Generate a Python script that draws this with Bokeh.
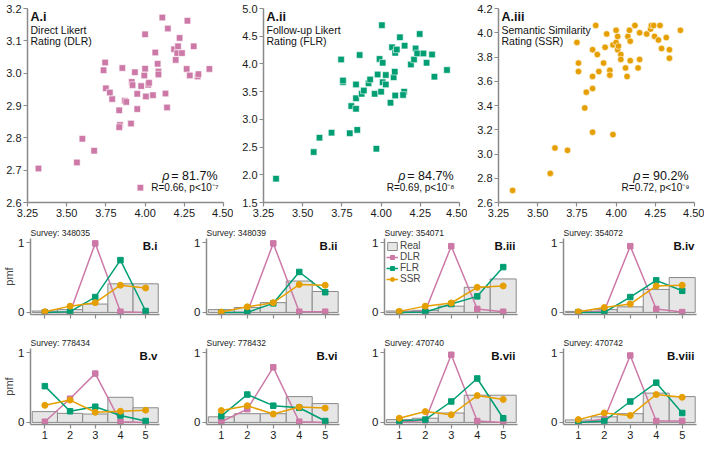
from bokeh.plotting import figure
from bokeh.layouts import row, column
from bokeh.models import Range1d, FixedTicker, NumeralTickFormatter, Label, Legend, LegendItem, AllLabels
from bokeh.embed import file_html
from bokeh.resources import INLINE

FONT = "Liberation Sans"
PINK, GREEN, ORANGE = "#CC79A7", "#009E73", "#E69F00"
AXIS_GRAY = "#8a8a8a"
BAR_FILL, BAR_LINE = "#e6e6e6", "#8a8a8a"

# ---------------- Panel A data (real mean vs synthetic mean) ----------------
dlr_real = [3.32, 3.565, 3.60, 3.675, 3.735, 3.745, 3.75, 3.79, 3.775, 3.835, 3.84, 3.835,
            3.855, 3.87, 3.88, 3.91, 3.915, 3.92, 3.935, 3.95, 3.95, 3.975, 4.0, 3.995,
            4.0, 4.005, 4.02, 4.025, 3.97, 4.05, 4.065, 4.08, 4.085, 4.085, 4.11, 4.13,
            4.14, 4.145, 4.185, 4.195, 4.21, 4.22, 4.205, 4.235, 4.265, 4.27, 4.285, 4.31,
            4.335, 4.34, 4.41]
dlr_mean = [2.705, 2.724, 2.797, 2.760, 3.009, 3.033, 2.953, 2.920, 2.940, 2.885, 2.840, 2.833,
            3.016, 2.915, 2.911, 2.844, 2.973, 2.963, 3.003, 2.936, 2.889, 2.960, 3.120, 2.993,
            3.014, 2.928, 2.964, 2.970, 2.646, 2.932, 3.064, 3.029, 3.005, 2.996, 3.172, 2.937,
            2.894, 3.138, 3.074, 3.041, 3.083, 3.109, 3.062, 3.062, 3.013, 3.162, 2.993, 3.083,
            2.990, 2.997, 3.013]

flr_real = [3.33, 3.57, 3.607, 3.684, 3.745, 3.757, 3.757, 3.81, 3.80, 3.84, 3.84, 3.848,
            3.84, 3.863, 3.876, 3.89, 3.92, 3.93, 3.959, 3.97, 3.978, 3.99, 4.005, 4.01,
            4.0, 4.01, 4.03, 4.03, 4.06, 4.07, 4.08, 4.087, 4.09, 4.09, 4.10, 4.12,
            4.147, 4.15, 4.14, 4.19, 4.21, 4.22, 4.23, 4.246, 4.27, 4.29, 4.325, 4.34, 4.42]
flr_mean = [1.93, 2.41, 2.67, 2.76, 4.08, 3.67, 3.70, 3.24, 2.75, 3.63, 3.19, 2.81,
            3.38, 4.16, 3.46, 3.52, 3.65, 3.72, 3.46, 2.47, 3.81, 4.09, 4.70, 4.02,
            3.50, 3.67, 3.80, 3.63, 3.30, 4.30, 3.76, 3.86, 4.20, 3.43, 4.26, 4.48,
            3.50, 4.33, 3.44, 3.99, 4.08, 4.28, 4.19, 4.54, 4.19, 4.02, 4.17, 3.77, 3.89]

ssr_real = [3.34, 3.58, 3.61, 3.69, 3.75, 3.76, 3.76, 3.80, 3.81, 3.85, 3.85, 3.85,
            3.85, 3.87, 3.88, 3.89, 3.92, 3.93, 3.94, 3.96, 3.96, 3.98, 3.98, 4.0,
            4.0, 4.01, 4.01, 4.015, 4.03, 4.03, 4.06, 4.07, 4.075, 4.085, 4.09, 4.09,
            4.12, 4.14, 4.15, 4.15, 4.195, 4.22, 4.225, 4.24, 4.245, 4.27, 4.28, 4.29,
            4.32, 4.34, 4.34, 4.41]
ssr_mean = [2.70, 2.84, 3.05, 3.03, 3.92, 3.68, 3.75, 3.38, 3.51, 3.86, 3.64, 3.54,
            3.18, 4.06, 3.82, 3.68, 3.75, 3.88, 3.99, 3.69, 3.65, 3.16, 3.90, 3.92,
            4.02, 3.86, 3.97, 3.89, 3.82, 3.78, 3.71, 3.64, 3.97, 4.02, 3.77, 3.93,
            4.06, 3.71, 3.78, 4.00, 3.99, 4.03, 4.06, 4.06, 3.97, 3.94, 4.06, 3.87,
            3.96, 3.86, 3.79, 4.02]

x_ticks_a = [3.25, 3.50, 3.75, 4.00, 4.25, 4.50]
y_ticks_dlr = [2.6, 2.7, 2.8, 2.9, 3.0, 3.1, 3.2]
y_ticks_flr = [1.5, 2.0, 2.5, 3.0, 3.5, 4.0, 4.5, 5.0]
y_ticks_ssr = [2.6, 2.8, 3.0, 3.2, 3.4, 3.6, 3.8, 4.0, 4.2]

# ---------------- Panel B data (pmf over Likert 1..5) ----------------
likert = [1, 2, 3, 4, 5]
pmf_ticks = [0, 1]
surveys = ["348035", "348039", "354071", "354072", "778434", "778432", "470740", "470742"]
tags = ["B.i", "B.ii", "B.iii", "B.iv", "B.v", "B.vi", "B.vii", "B.viii"]
real_pmf = [
    [0.02, 0.04, 0.12, 0.41, 0.41],
    [0.04, 0.07, 0.14, 0.45, 0.30],
    [0.02, 0.03, 0.09, 0.36, 0.48],
    [0.015, 0.04, 0.08, 0.33, 0.50],
    [0.155, 0.13, 0.12, 0.36, 0.21],
    [0.08, 0.125, 0.125, 0.37, 0.27],
    [0.04, 0.06, 0.135, 0.39, 0.39],
    [0.035, 0.08, 0.125, 0.42, 0.37],
]
dlr_pmf = [
    [0.0, 0.0, 0.99, 0.01, 0.0],
    [0.0, 0.0, 0.99, 0.01, 0.01],
    [0.0, 0.02, 0.95, 0.05, 0.01],
    [0.0, 0.02, 0.95, 0.05, 0.005],
    [0.01, 0.34, 0.70, 0.01, 0.0],
    [0.01, 0.19, 0.79, 0.01, 0.0],
    [0.0, 0.03, 0.97, 0.02, 0.0],
    [0.0, 0.05, 0.96, 0.02, 0.02],
]
flr_pmf = [
    [0.0, 0.01, 0.22, 0.75, 0.02],
    [0.0, 0.0, 0.13, 0.58, 0.29],
    [0.0, 0.005, 0.12, 0.23, 0.65],
    [0.0, 0.0, 0.22, 0.46, 0.31],
    [0.52, 0.16, 0.225, 0.10, 0.02],
    [0.09, 0.40, 0.24, 0.21, 0.02],
    [0.02, 0.04, 0.30, 0.63, 0.06],
    [0.0, 0.02, 0.30, 0.57, 0.135],
]
ssr_pmf = [
    [0.01, 0.09, 0.14, 0.39, 0.35],
    [0.005, 0.08, 0.14, 0.40, 0.39],
    [0.015, 0.09, 0.135, 0.36, 0.38],
    [0.01, 0.07, 0.12, 0.38, 0.39],
    [0.245, 0.32, 0.145, 0.16, 0.175],
    [0.17, 0.24, 0.12, 0.22, 0.205],
    [0.06, 0.155, 0.11, 0.385, 0.33],
    [0.04, 0.135, 0.10, 0.40, 0.36],
]


def style_axes(p):
    p.xgrid.visible = False
    p.ygrid.visible = False
    p.outline_line_color = None
    for ax in (p.xaxis[0], p.yaxis[0]):
        ax.axis_line_color = AXIS_GRAY
        ax.axis_line_width = 1.5
        ax.major_tick_line_color = AXIS_GRAY
        ax.major_tick_line_width = 1.2
        ax.major_tick_in = 0
        ax.major_tick_out = 4
        ax.minor_tick_line_color = None
        ax.major_label_text_font = FONT
        ax.major_label_text_font_size = "11px"
        ax.major_label_text_color = "#1a1a1a"
        ax.major_label_standoff = 2
        ax.major_label_policy = AllLabels()


def add_label(p, x, y, text, size, dx=0, dy=0, align="left", baseline="top", style="normal"):
    p.add_layout(Label(x=x, y=y, x_offset=dx, y_offset=dy, text=text, text_font=FONT,
                       text_font_size=size, text_align=align, text_baseline=baseline,
                       text_font_style=style, text_color="#111111"))


def scatter_panel(xs, ys, yr, yticks, color, marker, tag, line1, line2, rho, stats, w, bl, br):
    p = figure(width=w, height=222, x_range=Range1d(3.25, 4.5), y_range=Range1d(*yr),
               output_backend="svg", toolbar_location=None,
               min_border_left=bl, min_border_right=br, min_border_top=8, min_border_bottom=20)
    style_axes(p)
    p.xaxis.ticker = FixedTicker(ticks=x_ticks_a)
    p.xaxis.formatter = NumeralTickFormatter(format="0.00")
    p.yaxis.ticker = FixedTicker(ticks=yticks)
    p.yaxis.formatter = NumeralTickFormatter(format="0.0")
    p.scatter(xs, ys, marker=marker, size=6.5, fill_color=color, line_color="white", line_width=0.6)
    add_label(p, 3.25, yr[1], tag, "12.5px", dx=3, dy=-1, style="bold")
    add_label(p, 3.25, yr[1], line1, "10.5px", dx=3, dy=-15)
    add_label(p, 3.25, yr[1], line2, "10.5px", dx=3, dy=-26)
    add_label(p, 4.5, yr[0], "= " + rho, "12.5px", dx=-6, dy=27, align="right", baseline="middle")
    add_label(p, 4.5, yr[0], "\u03c1", "12.5px", dx=-54, dy=27, align="right", baseline="middle", style="italic")
    add_label(p, 4.5, yr[0], stats, "10px", dx=-5, dy=15, align="right", baseline="middle")
    return p


a1 = scatter_panel(dlr_real, dlr_mean, (2.6, 3.2), y_ticks_dlr, PINK, "square", "A.i",
                   "Direct Likert", "Rating (DLR)", "81.7%", "R=0.66, p<10\u207b\u2077", 233, 27, 10)
a2 = scatter_panel(flr_real, flr_mean, (1.5, 5.0), y_ticks_flr, GREEN, "square", "A.ii",
                   "Follow-up Likert", "Rating (FLR)", "84.7%", "R=0.69, p<10\u207b\u2078", 234, 30, 8)
a3 = scatter_panel(ssr_real, ssr_mean, (2.6, 4.2), y_ticks_ssr, ORANGE, "circle", "A.iii",
                   "Semantic Similarity", "Rating (SSR)", "90.2%", "R=0.72, p<10\u207b\u2079", 237, 31, 10)

widths = [174, 179, 178, 173]
borders_l = [26, 32, 31, 32]
borders_r = [15, 14, 14, 8]
X0, X1 = 0.43, 5.55
Y0, Y1 = -0.03, 1.06


def pmf_panel(i):
    col = i % 4
    bottom = i >= 4
    h = 113 if bottom else 108
    p = figure(width=widths[col], height=h, x_range=Range1d(X0, X1), y_range=Range1d(Y0, Y1),
               output_backend="svg", toolbar_location=None, title="Survey: " + surveys[i],
               min_border_left=borders_l[col], min_border_right=borders_r[col],
               min_border_top=18 if bottom else 16, min_border_bottom=19 if bottom else 16)
    style_axes(p)
    p.title.text_font = FONT
    p.title.text_font_size = "8.5px"
    p.title.text_font_style = "normal"
    p.title.text_color = "#222222"
    p.title.standoff = 2
    p.title.align = "left"
    p.xaxis.ticker = FixedTicker(ticks=likert)
    p.yaxis.ticker = FixedTicker(ticks=pmf_ticks)
    p.yaxis.major_label_overrides = {t: str(t) for t in pmf_ticks}
    p.yaxis.major_label_text_font_size = "11.5px"
    if not bottom:
        p.xaxis.major_label_overrides = {c: "" for c in likert}
        p.xaxis.major_label_standoff = 0
    if col == 0:
        p.yaxis.axis_label = "pmf"
        p.yaxis.axis_label_text_font = FONT
        p.yaxis.axis_label_text_font_size = "11px"
        p.yaxis.axis_label_text_font_style = "normal"
        p.yaxis.axis_label_standoff = 0
    r_real = p.quad(left=[c - 0.5 for c in likert], right=[c + 0.5 for c in likert],
                    bottom=[0] * 5, top=real_pmf[i], fill_color=BAR_FILL, line_color=BAR_LINE, line_width=1)
    l1 = p.line(likert, dlr_pmf[i], line_color=PINK, line_width=1.5)
    s1 = p.scatter(likert, dlr_pmf[i], marker="square", size=5.5, color=PINK)
    l2 = p.line(likert, flr_pmf[i], line_color=GREEN, line_width=1.5)
    s2 = p.scatter(likert, flr_pmf[i], marker="square", size=5.5, color=GREEN)
    l3 = p.line(likert, ssr_pmf[i], line_color=ORANGE, line_width=1.5)
    s3 = p.scatter(likert, ssr_pmf[i], marker="circle", size=6, color=ORANGE)
    add_label(p, X1, Y1, tags[i], "11.5px", dx=-2, dy=-1, align="right", baseline="top", style="bold")
    if i == 2:
        leg = Legend(items=[LegendItem(label="Real", renderers=[r_real]),
                            LegendItem(label="DLR", renderers=[l1, s1]),
                            LegendItem(label="FLR", renderers=[l2, s2]),
                            LegendItem(label="SSR", renderers=[l3, s3])],
                     location="top_left", margin=0, padding=2, spacing=0,
                     glyph_width=12, glyph_height=10, label_height=10, label_standoff=2,
                     label_text_font=FONT, label_text_font_size="10px",
                     background_fill_alpha=0, border_line_alpha=0)
        p.add_layout(leg)
    return p


bpanels = [pmf_panel(i) for i in range(8)]

layout = column(row(a1, a2, a3), row(*bpanels[:4]), row(*bpanels[4:]), spacing=0)
open("out.html", "w").write(file_html(layout, INLINE))
